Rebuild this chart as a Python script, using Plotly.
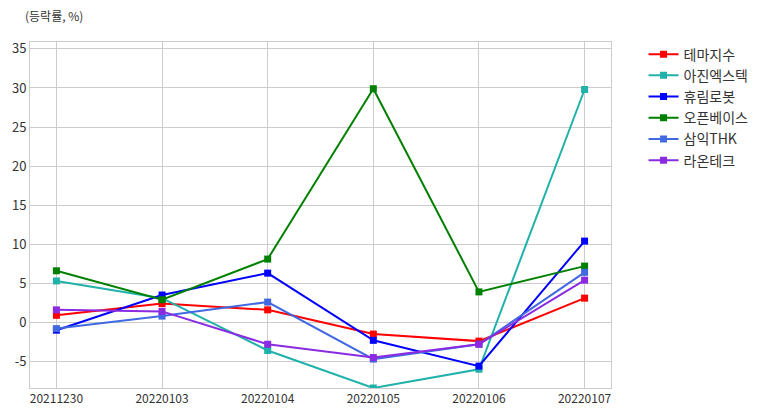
import plotly.graph_objects as go

dates = ["20211230", "20220103", "20220104", "20220105", "20220106", "20220107"]
names = ["테마지수", "아진엑스텍", "휴림로봇", "오픈베이스", "삼익THK", "라온테크"]
s_theme = [0.9, 2.4, 1.6, -1.5, -2.4, 3.1]
s_ajin = [5.3, 3.1, -3.6, -8.4, -6.0, 29.8]
s_hurim = [-1.0, 3.5, 6.3, -2.3, -5.6, 10.4]
s_openbase = [6.6, 2.9, 8.1, 29.9, 3.9, 7.2]
s_samick = [-0.8, 0.8, 2.6, -4.7, -2.8, 6.4]
s_raon = [1.6, 1.4, -2.8, -4.5, -2.8, 5.4]
y_ticks = [-5, 0, 5, 10, 15, 20, 25, 30, 35]
colors = ["red", "lightseagreen", "blue", "green", "royalblue", "blueviolet"]
series = [s_theme, s_ajin, s_hurim, s_openbase, s_samick, s_raon]

FONT = "Noto Sans CJK KR"
fig = go.Figure()
for n, s, c in zip(names, series, colors):
    fig.add_trace(go.Scatter(
        x=list(range(len(dates))), y=s, name=n, mode="lines+markers",
        line=dict(color=c, width=2),
        marker=dict(symbol="square", size=7, color=c),
    ))

ymax = max(max(s) for s in series) * 1.2
ymin = min(min(s) for s in series)

# page body has an 8px margin; figure is sized to fill the rest
L, T, PW, PH = 22, 34, 581, 346
fig.update_layout(
    width=760, height=408,
    margin=dict(l=L, r=157, t=T, b=28, autoexpand=False),
    paper_bgcolor="white", plot_bgcolor="white",
    font=dict(family=FONT, size=12, color="#333333"),
    showlegend=True,
    legend=dict(x=1.056, y=1.01, xanchor="left", yanchor="top",
                font=dict(size=14, color="#333333"), tracegroupgap=0,
                bgcolor="rgba(0,0,0,0)"),
    xaxis=dict(
        tickmode="array", tickvals=list(range(len(dates))), ticktext=dates,
        range=[-0.25, len(dates) - 0.75],
        showgrid=True, gridcolor="#cccccc", gridwidth=1,
        showline=True, linecolor="#cccccc", linewidth=1, mirror=True,
        zeroline=False, ticks="", tickfont=dict(size=12, color="#333333"),
        automargin=False,
    ),
    yaxis=dict(
        range=[ymin, ymax], tickmode="array", tickvals=y_ticks,
        ticktext=[str(v) for v in y_ticks],
        showgrid=True, gridcolor="#cccccc", gridwidth=1,
        showline=True, linecolor="#cccccc", linewidth=1, mirror=True,
        zeroline=False, ticks="", tickfont=dict(size=13, color="#333333"),
        automargin=False,
    ),
)
fig.add_annotation(text="(등락률, %)", xref="paper", yref="paper",
                   x=(15 - L) / PW, y=1 + (T - 7) / PH,
                   xanchor="left", yanchor="middle", showarrow=False,
                   font=dict(size=12, color="#333333"))

fig.write_html("out.html")
